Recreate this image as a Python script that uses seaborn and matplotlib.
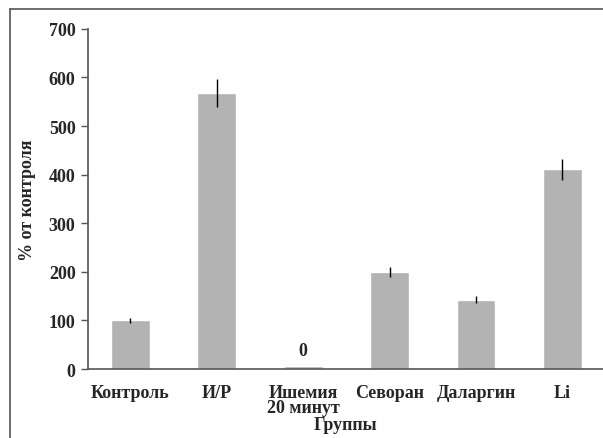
import matplotlib
matplotlib.use("Agg")
import matplotlib.pyplot as plt
from matplotlib.lines import Line2D
import seaborn as sns
import pandas as pd

# Values (% of control)
groups = ["Контроль", "И/Р", "Ишемия\n20 минут", "Севоран", "Даларгин", "Li"]
values = [100, 568, 7, 200, 143, 411]
errors = [5, 29, 0, 10, 8, 22]

df = pd.DataFrame({"group": groups, "value": values, "err": errors})

sns.set_style("white")
plt.rcParams["font.family"] = ["Liberation Serif", "DejaVu Serif"]
plt.rcParams["font.weight"] = "bold"

fig = plt.figure(figsize=(6.03, 4.39), dpi=100)
ax = fig.add_axes([0.146, 0.157, 0.854, 0.775])

sns.barplot(data=df, x="group", y="value", color="#b3b3b3", width=0.45,
            saturation=1, errorbar=None, ax=ax)
ax.errorbar(range(len(groups)), df["value"], yerr=df["err"], fmt="none",
            ecolor="black", elinewidth=1, capsize=0)

# label above the near-zero bar
ax.annotate("0", (2, values[2]), xytext=(0, 5), textcoords="offset points",
            ha="center", va="bottom", fontsize=13, fontweight="bold")

ax.set_xlim(-0.49, 5.47)
ax.set_ylim(0, 700)
ax.set_yticks(range(0, 701, 100))
for s in ["top", "right"]:
    ax.spines[s].set_visible(False)
ax.spines["left"].set_color("#555555")
ax.spines["bottom"].set_color("#555555")
ax.spines["left"].set_linewidth(1.2)
ax.spines["bottom"].set_linewidth(1.2)
ax.tick_params(axis="y", left=True, length=5, width=1, color="#555555",
               labelsize=13, pad=4)
ax.tick_params(axis="x", bottom=False, labelsize=13, pad=7)
for lbl in ax.get_xticklabels() + ax.get_yticklabels():
    lbl.set_fontweight("bold")
    lbl.set_linespacing(0.9)

ax.set_xlabel("Группы", fontsize=13, fontweight="bold", labelpad=0)
ax.set_ylabel("% от контроля", fontsize=13, fontweight="bold", labelpad=9)

# outer frame (left and top edges)
fig.add_artist(Line2D([10 / 603, 10 / 603], [0, 1 - 10 / 439],
                      color="#555555", lw=1.2, transform=fig.transFigure))
fig.add_artist(Line2D([10 / 603, 1], [1 - 10 / 439, 1 - 10 / 439],
                      color="#555555", lw=1.2, transform=fig.transFigure))

fig.savefig("out.png", dpi=100)
